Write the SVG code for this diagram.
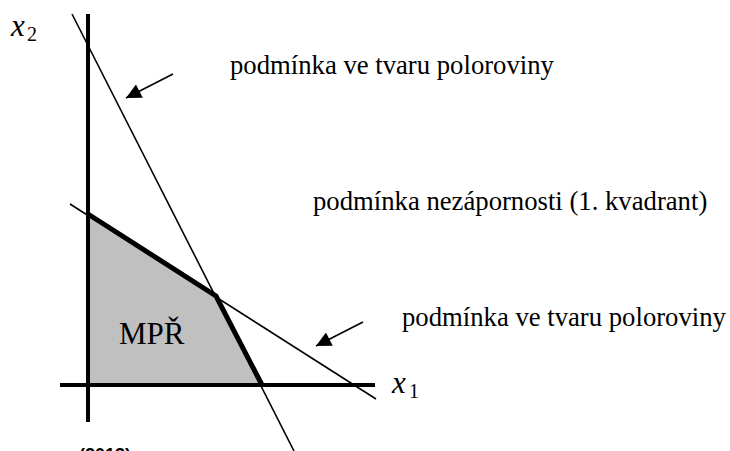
<svg xmlns="http://www.w3.org/2000/svg" width="730" height="451" viewBox="0 0 730 451">
<style>
.lbl{font-family:"Liberation Serif","Times New Roman",serif;font-size:26.7px;fill:#000}
.var{font-family:"Liberation Serif","Times New Roman",serif;font-style:italic;font-size:31px;fill:#000}
.sub{font-family:"Liberation Serif","Times New Roman",serif;font-size:20px;fill:#000}
.thin{stroke:#000;stroke-width:1.6;fill:none}
.axis{stroke:#000;stroke-width:4;fill:none}
</style>
<defs>
<marker id="ah" viewBox="0 0 10 10" refX="10" refY="5" markerWidth="19" markerHeight="15" markerUnits="userSpaceOnUse" orient="auto">
<path d="M0,0 L10,5 L0,10 z" fill="#000"/>
</marker>
</defs>
<g id="region">
<polygon points="88,214 216,296 262,385 88,385" fill="#c0c0c0" stroke="none"/>
<polyline points="88,214 216,296 262,385" fill="none" stroke="#000" stroke-width="5" stroke-linejoin="miter"/>
<text class="lbl" x="119" y="344" style="font-size:31px">MPŘ</text>
</g>
<g id="axes">
<line class="axis" x1="88" y1="14" x2="88" y2="422"/>
<line class="axis" x1="60" y1="385" x2="375" y2="385"/>
<text class="var" x="11" y="36">x</text><text class="sub" x="27" y="41">2</text>
<text class="var" x="392" y="393">x</text><text class="sub" x="409" y="398">1</text>
</g>
<g id="connectors">
<line class="thin" x1="72" y1="14" x2="294" y2="451"/>
<line class="thin" x1="70" y1="204" x2="376" y2="399"/>
<line class="thin" x1="173" y1="74" x2="126" y2="98" marker-end="url(#ah)"/>
<line class="thin" x1="363" y1="322" x2="316" y2="346" marker-end="url(#ah)"/>
</g>
<g id="label-top"><text class="lbl" x="230" y="74">podmínka ve tvaru poloroviny</text></g>
<g id="label-mid"><text class="lbl" x="313" y="210">podmínka nezápornosti (1. kvadrant)</text></g>
<g id="label-bot"><text class="lbl" x="402" y="326">podmínka ve tvaru poloroviny</text></g>
<g id="source"><text x="131" y="461" text-anchor="end" style="font-family:'Liberation Sans',Arial,sans-serif;font-weight:bold;font-size:18px">(2013)</text></g>
</svg>
